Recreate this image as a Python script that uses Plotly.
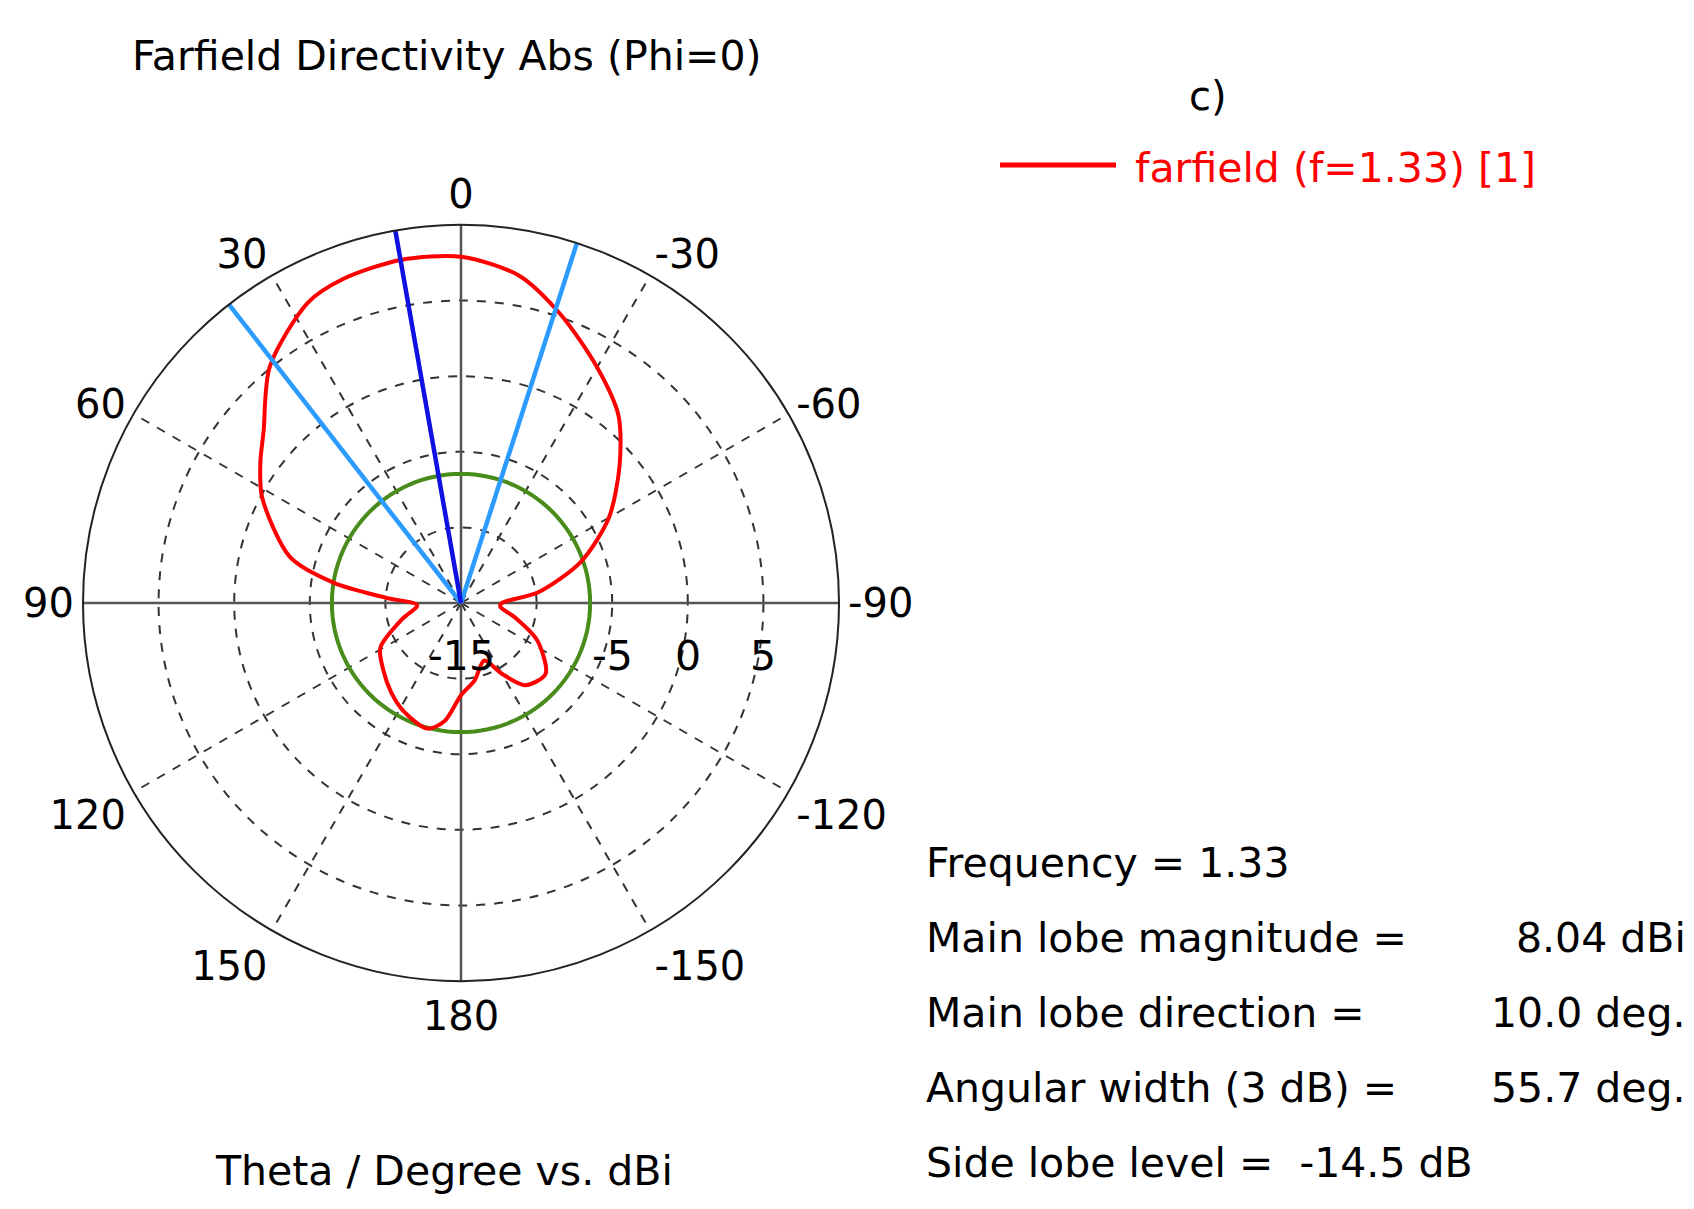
import plotly.graph_objects as go

theta = [-180, -170, -158, -150, -142, -130, -116, -105, -95, -90, -82, -71, -60, -49, -40, -30, -19, -10, 0, 10, 20, 27, 39, 49, 55, 62, 75, 81, 86, 93, 105, 119, 131, 142, 152, 165, 172, 180]
dbi = [-8.9, -9.8, -10.9, -9.6, -8.1, -7.7, -9.4, -11.3, -12.4, -12.3, -9.8, -6.6, -3.7, -1.1, 1.2, 3.0, 5.2, 7.0, 7.9, 8.04, 7.8, 7.3, 5.1, 2.3, 1.2, -0.1, -3.3, -6.5, -10.0, -12.1, -11.0, -8.9, -8.2, -7.5, -6.9, -6.4, -7.1, -8.9]
main_dir = 10.0
width3db = 55.7
side_level = -6.46
r_min, r_max = -15, 10
ang_ticks = [0, 30, 60, 90, 120, 150, 180, -150, -120, -90, -60, -30]
rad_ticks = [-15, -5, 0, 5]

font = "DejaVu Sans"
fig = go.Figure()
grey = "#555555"
fig.add_trace(go.Scatterpolar(theta=[0, 0, 180], r=[r_max, r_min, r_max], mode="lines", line=dict(color=grey, width=2.5), showlegend=False))
fig.add_trace(go.Scatterpolar(theta=[90, 90, -90], r=[r_max, r_min, r_max], mode="lines", line=dict(color=grey, width=2.5), showlegend=False))
th_c = list(range(0, 361, 3))
fig.add_trace(go.Scatterpolar(theta=th_c, r=[side_level] * len(th_c), mode="lines", line=dict(color="#4a8c1c", width=4), showlegend=False))
fig.add_trace(go.Scatterpolar(theta=theta, r=dbi, mode="lines", line=dict(color="#ff0000", width=4, shape="spline", smoothing=0.8), name="farfield (f=1.33) [1]"))
fig.add_trace(go.Scatterpolar(theta=[main_dir - width3db / 2, main_dir - width3db / 2], r=[r_min, r_max], mode="lines", line=dict(color="#2b9bff", width=4.5), showlegend=False))
fig.add_trace(go.Scatterpolar(theta=[main_dir + width3db / 2, main_dir + width3db / 2], r=[r_min, r_max], mode="lines", line=dict(color="#2b9bff", width=4.5), showlegend=False))
fig.add_trace(go.Scatterpolar(theta=[main_dir, main_dir], r=[r_min, r_max], mode="lines", line=dict(color="#1010e0", width=4.5), showlegend=False))

cx, cy, R = 453, 595, 378
W, H = 1694, 1209
fig.update_layout(
    width=W, height=H, margin=dict(l=0, r=0, t=0, b=0),
    paper_bgcolor="white", plot_bgcolor="white",
    font=dict(family=font, size=40, color="black"),
    showlegend=False,
    polar=dict(
        domain=dict(x=[(cx - R) / W, (cx + R) / W], y=[(H - cy - R) / H, (H - cy + R) / H]),
        bgcolor="white",
        angularaxis=dict(rotation=90, direction="counterclockwise", tickvals=[(t % 360) for t in ang_ticks], ticktext=[str(t) for t in ang_ticks],
                         showgrid=True, gridcolor="#333", gridwidth=1.5, griddash="dash", linecolor="#222", linewidth=2, ticks="", tickfont=dict(size=40)),
        radialaxis=dict(range=[r_min, r_max], tickvals=[-10, -5, 0, 5], showticklabels=False, gridcolor="#333", gridwidth=1.5, griddash="dash", showline=False, ticks=""),
    ),
)
ann = []
ann.append(dict(x=122 / W, y=1 - 48 / H, text="Farfield Directivity Abs (Phi=0)", xanchor="left", yanchor="middle", font=dict(size=41)))
ann.append(dict(x=1200 / W, y=1 - 88 / H, text="c)", xanchor="center", yanchor="middle"))
ann.append(dict(x=1125 / W, y=1 - 160 / H, text="farfield (f=1.33) [1]", xanchor="left", yanchor="middle", font=dict(size=41, color="#ff0000")))
ann.append(dict(x=205 / W, y=1 - 1163 / H, text="Theta / Degree vs. dBi", xanchor="left", yanchor="middle", font=dict(size=41)))
for v in rad_ticks:
    px = cx + (v - r_min) / (r_max - r_min) * R
    ann.append(dict(x=px / W, y=1 - 648 / H, text=str(v), xanchor="center", yanchor="middle", font=dict(size=41)))
info = [("Frequency = 1.33", None, 855), ("Main lobe magnitude =", "8.04 dBi", 930), ("Main lobe direction =", "10.0 deg.", 1005),
        ("Angular width (3 dB) =", "55.7 deg.", 1080), ("Side lobe level =  -14.5 dB", None, 1155)]
for lab, val, y in info:
    ann.append(dict(x=916 / W, y=1 - y / H, text=lab, xanchor="left", yanchor="middle", font=dict(size=41)))
    if val:
        ann.append(dict(x=1680 / W, y=1 - y / H, text=val, xanchor="right", yanchor="middle", font=dict(size=41)))
fig.update_layout(annotations=[dict(a, xref="paper", yref="paper", showarrow=False) for a in ann])
fig.add_shape(type="line", xref="paper", yref="paper", x0=992 / W, x1=1108 / W, y0=1 - 157 / H, y1=1 - 157 / H, line=dict(color="#ff0000", width=5))
fig.write_html("out.html")
